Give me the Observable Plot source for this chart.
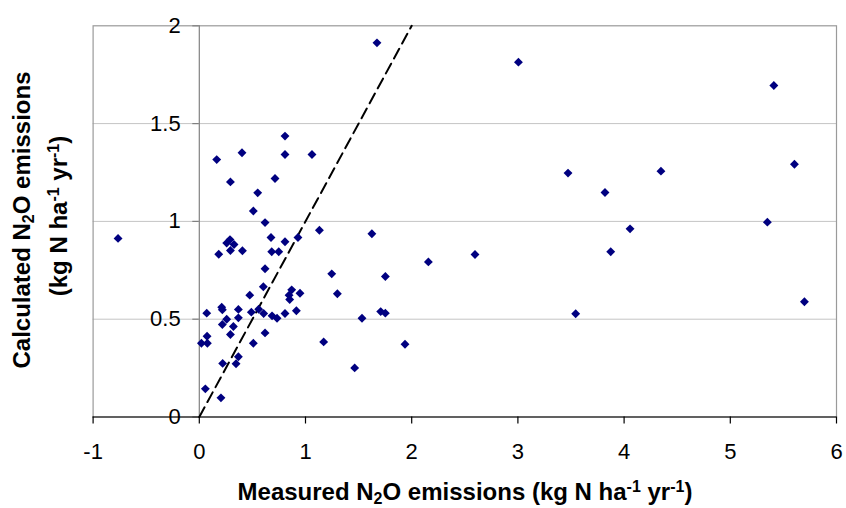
<!DOCTYPE html>
<html>
<head>
<meta charset="utf-8">
<script src="https://cdn.jsdelivr.net/npm/d3@7"></script>
<script src="https://cdn.jsdelivr.net/npm/@observablehq/plot@0.6"></script>
<style>
  html, body { margin: 0; padding: 0; background: white; }
  svg { display: block; }
</style>
</head>
<body>
<div id="chart"></div>
<script>
// Measured vs calculated N2O emissions (kg N ha-1 yr-1)
const measured = [
  0.164, 0.293, 0.402, 0.55, 0.509, 0.619, 0.713, 0.807, 0.807, 1.061,
  1.131, 1.673, -0.765, 1.625, 0.675, 0.807, 0.929, 0.289, 0.258, 0.327,
  0.293, 0.183, 0.406, 0.682, 0.748, 0.619, 0.603, 0.475, 0.87, 0.845,
  0.851, 0.948, 0.914, 0.807, 1.247, 1.3, 1.708, 1.752, 1.532, 1.171,
  1.463, 0.07, 0.211, 0.217, 0.258, 0.217, 0.321, 0.368, 0.368, 0.293,
  0.073, 0.076, 0.02, 0.49, 0.559, 0.606, 0.685, 0.732, 0.619, 0.509,
  0.368, 0.346, 0.22, 0.057, 0.204, 3.005, 5.41, 3.472, 3.82, 4.347,
  5.604, 5.349, 4.056, 1.752, 2.157, 2.596, 3.874, 5.698, 3.544, 1.937
];
const calculated = [
  1.316, 1.202, 1.351, 1.146, 1.053, 0.994, 1.219, 1.436, 1.342, 1.342,
  0.955, 1.913, 0.913, 0.937, 0.918, 0.896, 0.918, 0.907, 0.889, 0.882,
  0.851, 0.832, 0.85, 0.845, 0.845, 0.758, 0.666, 0.623, 0.65, 0.623,
  0.601, 0.633, 0.543, 0.529, 0.732, 0.63, 0.539, 0.531, 0.505, 0.384,
  0.251, 0.531, 0.561, 0.548, 0.5, 0.473, 0.463, 0.55, 0.507, 0.422,
  0.413, 0.377, 0.377, 0.536, 0.551, 0.529, 0.517, 0.505, 0.43, 0.377,
  0.308, 0.272, 0.274, 0.144, 0.098, 1.814, 1.695, 1.247, 1.148, 1.257,
  1.292, 0.996, 0.962, 0.718, 0.793, 0.831, 0.845, 0.589, 0.528, 0.372
];
// 1:1 reference line
const oneToOneX = [0, 2];
const oneToOneY = [0, 2];

const xTicks = [-1, 0, 1, 2, 3, 4, 5, 6];
const xTickLabels = ["-1", "0", "1", "2", "3", "4", "5", "6"];
const yTicks = [0, 0.5, 1, 1.5, 2];
const yTickLabels = ["0", "0.5", "1", "1.5", "2"];
const yGrid = [0.5, 1, 1.5];

const points = measured.map((m, i) => ({measured: m, calculated: calculated[i]}));
const refLine = oneToOneX.map((x, i) => ({x, y: oneToOneY[i]}));

const chart = Plot.plot({
  width: 846,
  height: 508,
  marginLeft: 92.6,
  marginRight: 10,
  marginTop: 25.3,
  marginBottom: 91.5,
  style: {fontFamily: "'Liberation Sans', Arial, sans-serif", background: "white", color: "black"},
  x: {domain: [-1, 6], axis: null},
  y: {domain: [0, 2], axis: null},
  marks: [
    Plot.ruleY(yGrid, {stroke: "#c4c4c4", strokeWidth: 1}),
    Plot.frame({stroke: "#9a9a9a", strokeWidth: 1.2}),
    Plot.ruleX([0], {stroke: "#808080", strokeWidth: 1.2}),
    Plot.ruleY(yTicks, {x1: 0, x2: 0, insetLeft: -6.5, stroke: "#808080", strokeWidth: 1.2}),
    Plot.text(yTicks, {x: 0, y: d => d, text: (d, i) => yTickLabels[i], textAnchor: "end", dx: -18.6, fontSize: 22, fill: "black"}),
    Plot.ruleY([0], {stroke: "black", strokeWidth: 1.2}),
    Plot.ruleX(xTicks, {y1: 0, y2: 0, insetBottom: -7, stroke: "black", strokeWidth: 1.2}),
    Plot.text(xTicks, {x: d => d, y: 0, text: (d, i) => xTickLabels[i], lineAnchor: "top", dy: 26, fontSize: 22, fill: "black"}),
    Plot.line(refLine, {x: "x", y: "y", stroke: "black", strokeWidth: 2, strokeDasharray: "11,6"}),
    Plot.dot(points, {x: "measured", y: "calculated", symbol: "diamond2", r: 4, fill: "#000080", stroke: "none"})
  ]
});

document.getElementById("chart").appendChild(chart);

const svg = d3.select(chart);
function richText(parent, parts, attrs) {
  const t = parent.append("text");
  Object.entries(attrs).forEach(([k, v]) => t.attr(k, v));
  let shift = 0;
  parts.forEach(p => {
    const ts = t.append("tspan").text(p.t);
    const target = p.sub ? 4 : p.sup ? -8 : 0;
    if (target !== shift) { ts.attr("dy", target - shift); shift = target; }
    if (p.sub || p.sup) ts.attr("font-size", 16);
  });
  return t;
}
const common = {"font-family": "'Liberation Sans', Arial, sans-serif", "font-weight": "bold", "font-size": 24, "text-anchor": "middle", "fill": "black"};

richText(svg, [
  {t: "Measured N"}, {t: "2", sub: true}, {t: "O emissions (kg N ha"}, {t: "-1", sup: true},
  {t: " yr"}, {t: "-1", sup: true}, {t: ")"}
], {...common, x: 465, y: 500});

richText(svg, [
  {t: "Calculated N"}, {t: "2", sub: true}, {t: "O emissions"}
], {...common, transform: "translate(30,220) rotate(-90)"});

richText(svg, [
  {t: "(kg N ha"}, {t: "-1", sup: true}, {t: " yr"}, {t: "-1", sup: true}, {t: ")"}
], {...common, transform: "translate(67,216) rotate(-90)"});
</script>
</body>
</html>
